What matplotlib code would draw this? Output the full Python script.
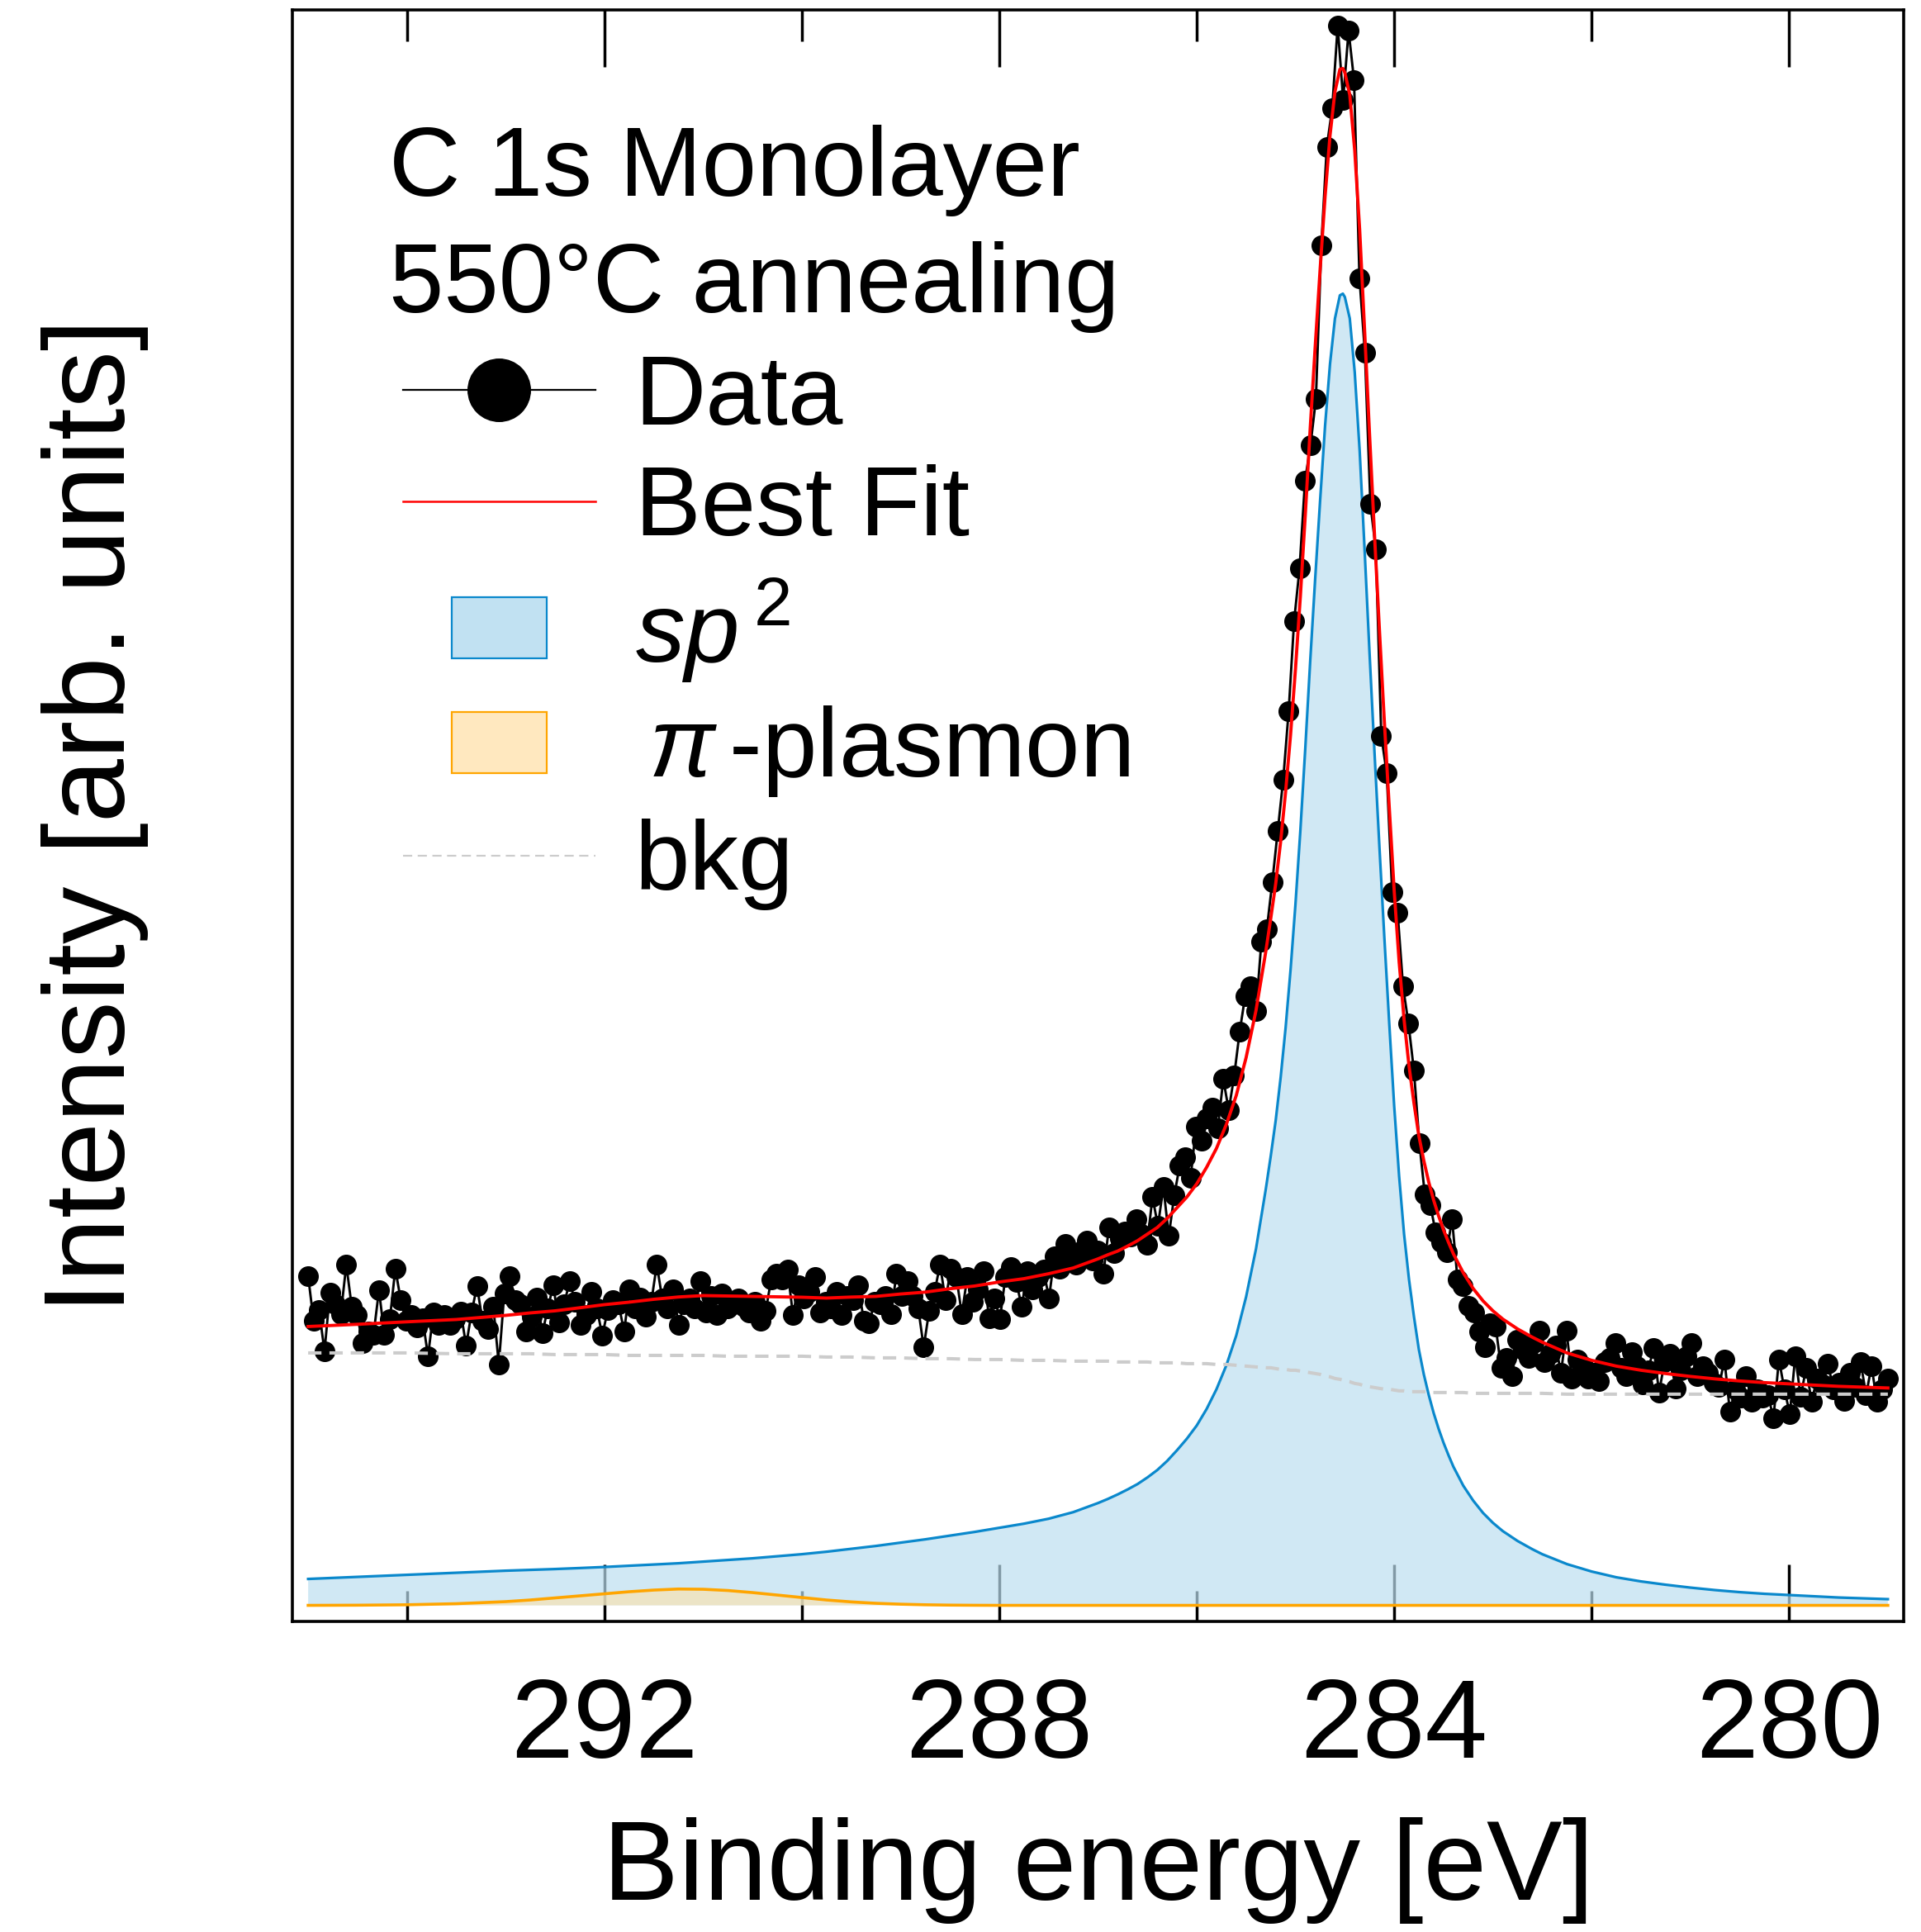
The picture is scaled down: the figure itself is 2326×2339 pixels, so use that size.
import numpy as np
import matplotlib
matplotlib.use("Agg")
import matplotlib.pyplot as plt
from matplotlib.patches import Rectangle, Patch
from matplotlib.lines import Line2D
from matplotlib.legend_handler import HandlerPatch
from matplotlib.ticker import FixedLocator
from matplotlib.colors import to_rgba

plt.rcParams['font.family'] = ['Liberation Sans', 'DejaVu Sans']
plt.rcParams['mathtext.fontset'] = 'custom'
plt.rcParams['mathtext.rm'] = 'Liberation Sans'
plt.rcParams['mathtext.it'] = 'Liberation Sans:italic'
plt.rcParams['mathtext.bf'] = 'Liberation Sans:bold'

# ---------------- data ----------------
E_START, E_STOP, N_POINTS = 295.0, 279.0, 291

data_counts = [
    399, 345, 358, 308, 379, 365, 353, 413, 362, 352,
    318, 332, 328, 382, 328, 347, 408, 370, 345, 352,
    337, 348, 302, 355, 340, 352, 340, 347, 356, 315,
    355, 387, 345, 335, 362, 292, 378, 399, 370, 365,
    332, 350, 373, 330, 360, 388, 343, 365, 393, 368,
    340, 352, 380, 360, 327, 358, 370, 365, 332, 383,
    360, 373, 350, 368, 413, 372, 360, 383, 340, 365,
    372, 360, 393, 355, 375, 352, 378, 360, 365, 372,
    362, 355, 368, 345, 357, 395, 402, 395, 407, 352,
    388, 372, 380, 398, 355, 368, 360, 380, 352, 375,
    370, 388, 345, 342, 368, 365, 375, 353, 402, 375,
    393, 375, 360, 313, 357, 380, 413, 370, 408, 398,
    353, 398, 368, 383, 405, 348, 372, 347, 398, 410,
    392, 362, 405, 383, 398, 407, 372, 423, 408, 438,
    422, 413, 430, 442, 418, 430, 402, 458, 427, 445,
    453, 447, 468, 450, 437, 495, 460, 507, 448, 497,
    533, 543, 518, 580, 563, 590, 603, 578, 638, 600,
    642, 695, 738, 750, 720, 805, 820, 877, 939, 1001,
    1084, 1193, 1257, 1363, 1406, 1462, 1649, 1768, 1815, 1915,
    1825, 1909, 1849, 1609, 1518, 1335, 1280, 1054, 1009, 865,
    840, 750, 705, 648, 560, 498, 485, 452, 440, 428,
    468, 395, 387, 363, 355, 332, 313, 342, 338, 288,
    300, 278, 322, 310, 300, 318, 333, 295, 305, 315,
    282, 333, 275, 298, 290, 275, 282, 272, 295, 300,
    318, 288, 278, 307, 290, 268, 285, 312, 258, 295,
    305, 263, 285, 302, 318, 278, 290, 282, 270, 265,
    298, 235, 262, 252, 278, 247, 262, 252, 255, 227,
    298, 262, 232, 302, 253, 288, 247, 275, 268, 293,
    262, 270, 248, 282, 265, 295, 255, 290, 247, 262,
    275,
]

fit_energy = [
    295.0, 294.5, 294.0, 293.5, 293.0, 292.75, 292.5, 292.25, 292.0, 291.75,
    291.5, 291.25, 291.0, 290.75, 290.5, 290.25, 290.0, 289.75, 289.5, 289.25,
    289.0, 288.75, 288.5, 288.25, 288.0, 287.75, 287.5, 287.25, 287.0, 286.9,
    286.8, 286.7, 286.6, 286.5, 286.4, 286.3, 286.2, 286.1, 286.0, 285.9,
    285.8, 285.7, 285.6, 285.5, 285.4, 285.3, 285.25, 285.2, 285.15, 285.1,
    285.05, 285.0, 284.95, 284.9, 284.85, 284.8, 284.75, 284.7, 284.65, 284.6,
    284.55, 284.52, 284.5, 284.45, 284.4, 284.35, 284.3, 284.25, 284.2, 284.15,
    284.1, 284.05, 284.0, 283.95, 283.9, 283.85, 283.8, 283.75, 283.7, 283.65,
    283.6, 283.55, 283.5, 283.45, 283.4, 283.3, 283.2, 283.1, 283.0, 282.9,
    282.75, 282.6, 282.5, 282.25, 282.0, 281.75, 281.5, 281.25, 281.0, 280.75,
    280.5, 280.25, 280.0, 279.5, 279.0,
]

sp2_component = [
    32, 34.5, 37, 39.5, 42, 43, 44, 45.2, 46.5, 48,
    49.5, 51, 53, 55, 57, 59.5, 62, 65, 68.5, 72,
    76, 80, 84.5, 89, 94, 99, 105, 113, 124, 129,
    134.5, 140.5, 147, 155, 164, 175, 188, 202, 218, 238,
    262, 291, 327, 374, 432, 505, 545, 588, 640, 700,
    770, 850, 940, 1040, 1146, 1245, 1340, 1430, 1505, 1560,
    1588, 1590, 1586, 1560, 1495, 1400, 1280, 1155, 1035, 920,
    810, 705, 605, 520, 450, 395, 350, 310, 280, 255,
    233, 214, 197, 182, 168, 145, 127, 112, 100, 90,
    78, 68, 62, 50, 41, 34, 29, 25, 21.5, 18.5,
    16, 14, 12.5, 9.5, 7.5,
]

plasmon_component = [
    0, 0.2, 0.7, 2, 4.5, 6.5, 9, 11.5, 14, 16.5,
    18.5, 19.8, 19.5, 18, 15.5, 12.5, 9.5, 6.5, 4.2, 2.5,
    1.4, 0.7, 0.3, 0.1, 0, 0, 0, 0, 0, 0,
    0, 0, 0, 0, 0, 0, 0, 0, 0, 0,
    0, 0, 0, 0, 0, 0, 0, 0, 0, 0,
    0, 0, 0, 0, 0, 0, 0, 0, 0, 0,
    0, 0, 0, 0, 0, 0, 0, 0, 0, 0,
    0, 0, 0, 0, 0, 0, 0, 0, 0, 0,
    0, 0, 0, 0, 0, 0, 0, 0, 0, 0,
    0, 0, 0, 0, 0, 0, 0, 0, 0, 0,
    0, 0, 0, 0, 0,
]

background = [
    306, 306, 306, 305, 305, 305, 304, 304, 304, 303,
    303, 303, 303, 302, 302, 302, 302, 301, 301, 300,
    300, 299, 299, 298, 298, 297, 297, 296, 296, 296,
    295, 295, 295, 295, 294, 294, 294, 293, 293, 293,
    292, 292, 291, 290, 289, 288, 288, 287, 286, 286,
    285, 285, 284, 283, 282, 281, 280, 278, 277, 275,
    274, 273, 272, 271, 269, 268, 266, 265, 264, 263,
    262, 262, 261, 260, 260, 259, 259, 259, 259, 258,
    258, 258, 258, 258, 258, 258, 257, 257, 257, 257,
    257, 257, 257, 256, 256, 256, 256, 256, 256, 256,
    256, 256, 256, 256, 256,
]

major_ticks = [292, 288, 284, 280]
minor_ticks = [294, 290, 286, 282]

legend_title = "C 1s Monolayer\n550°C annealing"
labels = ["Data", "Best Fit", r"$sp^{\,2}$", r"$\,\pi\,$-plasmon", "bkg"]

# ---------------- styles ----------------
BLUE = '#0a88cc'
ORANGE = '#ffa500'
GREY = '#cccccc'
RED = '#ff0000'

energy = np.linspace(E_START, E_STOP, N_POINTS)
E_fit = np.array(fit_energy)
sp2 = np.array(sp2_component, dtype=float)
pla = np.array(plasmon_component, dtype=float)
bkg = np.array(background, dtype=float)
n = min(len(E_fit), len(sp2), len(pla), len(bkg))
E_fit, sp2, pla, bkg = E_fit[:n], sp2[:n], pla[:n], bkg[:n]
best_fit = bkg + sp2 + pla

fig = plt.figure(figsize=(23.26, 23.39), dpi=100)
ax = fig.add_axes([0.15219, 0.16075, 0.83878, 0.83412])

blue_fill = to_rgba('#bcdff0', 0.69)
orange_fill = to_rgba('#ffe2a8', 0.6)

ax.fill_between(E_fit, 0, sp2, facecolor=blue_fill, edgecolor='none', zorder=1)
ax.fill_between(E_fit, 0, pla, facecolor=orange_fill, edgecolor='none', zorder=1.1)
ax.plot(E_fit, sp2, color=BLUE, lw=2.3, zorder=1.5)
ax.plot(E_fit, pla, color=ORANGE, lw=2.6, zorder=1.6)
ax.plot(energy, data_counts, color='black', lw=2.1, marker='o', markersize=17,
        zorder=2)
ax.plot(E_fit, bkg, color=GREY, lw=2.9, ls=(0, (4, 2.4)), zorder=3)
ax.plot(E_fit, best_fit, color=RED, lw=2.8, zorder=4)

ax.set_xlim(295.16, 278.84)
ax.set_ylim(-19.5, 1934)
ax.set_axisbelow(True)

ax.xaxis.set_major_locator(FixedLocator(major_ticks))
ax.xaxis.set_minor_locator(FixedLocator(minor_ticks))
ax.set_yticks([])
ax.tick_params(axis='x', which='both', direction='in', top=True, bottom=True,
               width=2.5, labelsize=98, pad=48)
ax.tick_params(axis='x', which='major', length=50)
ax.tick_params(axis='x', which='minor', length=27)
for sp in ax.spines.values():
    sp.set_linewidth(2.6)

ax.set_xlabel("Binding energy [eV]", fontsize=99, labelpad=32)
ax.set_ylabel("Intensity [arb. units]", fontsize=100, labelpad=125)

# legend title as text block
ax.text(0.0600, 0.9285, legend_title, transform=ax.transAxes, fontsize=86,
        ha='left', va='top', linespacing=1.34, zorder=10)


def small_rect(legend, orig_handle, xdescent, ydescent, width, height, fontsize):
    w = 0.49 * width
    h = 0.62 * fontsize
    return Rectangle((-xdescent + (width - w) / 2.0, -ydescent + (height - h) / 2.0), w, h)


handles = [
    Line2D([], [], color='black', lw=1.6, marker='o', markersize=16),
    Line2D([], [], color=RED, lw=1.8),
    Patch(facecolor=to_rgba(BLUE, 0.25), edgecolor=BLUE, lw=1.6),
    Patch(facecolor=to_rgba(ORANGE, 0.25), edgecolor=ORANGE, lw=1.6),
    Line2D([], [], color=GREY, lw=1.6, ls=(0, (5, 3))),
]

leg = ax.legend(handles, labels, loc='upper left',
                bbox_to_anchor=(0.0687, 0.787), fontsize=86,
                frameon=False, handlelength=1.95, handletextpad=0.4,
                labelspacing=0.2, borderpad=0, borderaxespad=0,
                markerscale=3.4,
                handler_map={Patch: HandlerPatch(patch_func=small_rect)})
leg.set_zorder(10)

fig.savefig('out.png', dpi=100)
